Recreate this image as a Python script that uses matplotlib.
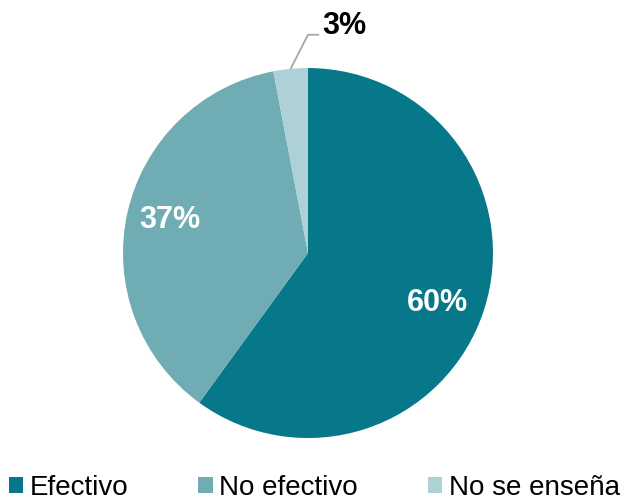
import matplotlib
matplotlib.use("Agg")
import matplotlib.pyplot as plt
import numpy as np

categories = ["Efectivo", "No efectivo", "No se enseña"]
values = [60, 37, 3]
labels = ["60%", "37%", "3%"]
colors = ["#077889", "#70ACB3", "#AED1D7"]

plt.rcParams['font.family'] = ['Liberation Sans', 'DejaVu Sans']

fig = plt.figure(figsize=(6.26, 5.01), dpi=100)
ax = fig.add_axes([0.1965, 0.1257, 0.591, 0.7385])
wedges, _ = ax.pie(values, colors=colors, startangle=90, counterclock=False,
                   radius=1.0, wedgeprops=dict(linewidth=0))
ax.set_xlim(-1, 1)
ax.set_ylim(-1, 1)
ax.set_aspect('equal')

# inside labels
for w, lab, d, off in zip(wedges[:2], labels[:2], [0.75, 0.77], [-3, -1]):
    ang = np.deg2rad((w.theta1 + w.theta2) / 2 + off)
    ax.text(d * np.cos(ang), d * np.sin(ang), lab, ha='center', va='center',
            fontsize=22, fontweight='bold', color='white')

# outside label with leader line
w = wedges[2]
ang = np.deg2rad((w.theta1 + w.theta2) / 2)
x0, y0 = np.cos(ang), np.sin(ang)
ax.plot([x0, 0.0, 0.06], [y0, 1.18, 1.18], color='#A6A6A6', lw=1.3,
        clip_on=False, solid_capstyle='butt')
ax.text(0.075, 1.225, labels[2], ha='left', va='center', fontsize=22,
        fontweight='bold', color='black')

from matplotlib.patches import Patch
handles = [Patch(facecolor=c, edgecolor='none') for c in colors]
fig.legend(handles, categories, loc='lower left', bbox_to_anchor=(-0.004, -0.022),
           ncol=3, frameon=False, fontsize=20, handlelength=0.52,
           handleheight=0.52, handletextpad=0.25, columnspacing=2.5,
           borderaxespad=0.0)

fig.savefig("out.png", dpi=100)
